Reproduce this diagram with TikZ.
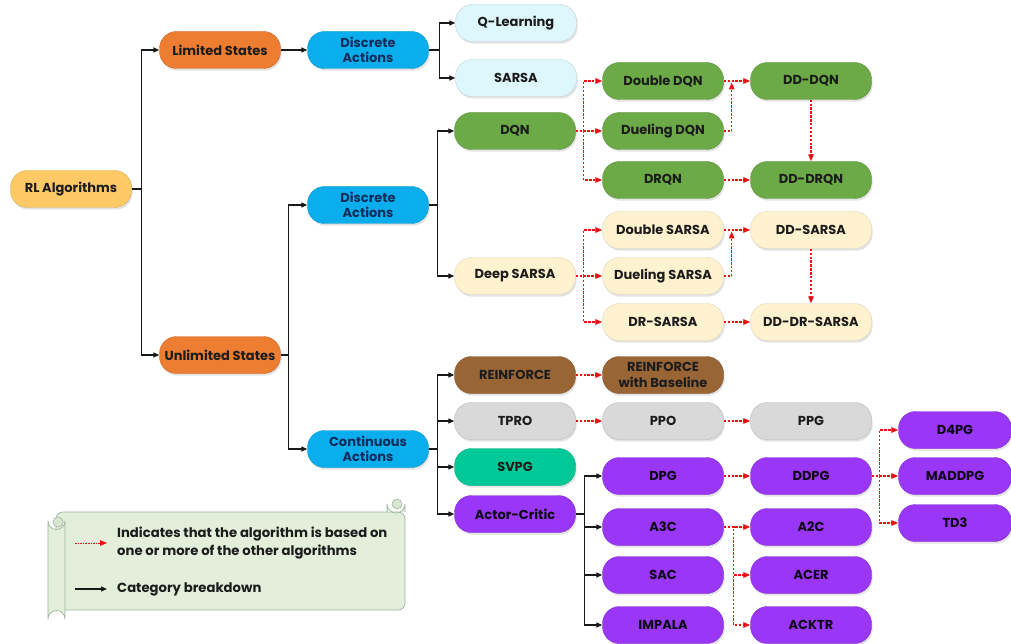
\documentclass[tikz,border=0pt]{standalone}
\usepackage{fontspec}
\setmainfont{Poppins}
\usetikzlibrary{arrows.meta,shadows,calc}
\definecolor{rlC}{HTML}{FFC966}
\definecolor{stC}{HTML}{ED7D31}
\definecolor{actC}{HTML}{0AAEEC}
\definecolor{qlC}{HTML}{DDF7FB}
\definecolor{dqnC}{HTML}{6CA947}
\definecolor{sarC}{HTML}{FFF2CF}
\definecolor{reC}{HTML}{9A6535}
\definecolor{grC}{HTML}{D9D9D9}
\definecolor{svC}{HTML}{00C896}
\definecolor{acC}{HTML}{9A36F5}
\definecolor{txt}{HTML}{1C1C1C}
\definecolor{navy}{HTML}{0F2D5C}
\definecolor{depC}{HTML}{E81010}
\definecolor{scrC}{HTML}{E3EFDB}
\definecolor{scrD}{HTML}{9FB5A2}
\begin{document}
\begin{tikzpicture}[x=1pt,y=-1pt,
  box/.style={rounded corners=17pt, minimum width=121pt, minimum height=37pt, inner sep=1pt,
    align=center, font=\bfseries\fontsize{13}{15.5}\selectfont, text=txt, line width=0.4pt,
    drop shadow={shadow xshift=1.2pt, shadow yshift=-2.2pt, opacity=0.22}},
  rlbox/.style={box, fill=rlC, draw=rlC!85!black},
  stbox/.style={box, fill=stC, draw=stC!85!black},
  actbox/.style={box, fill=actC, draw=actC!85!black, text=navy},
  qlbox/.style={box, fill=qlC, draw=qlC!70!gray},
  dqnbox/.style={box, fill=dqnC, draw=dqnC!85!black},
  sarbox/.style={box, fill=sarC, draw=sarC!75!gray},
  rebox/.style={box, fill=reC, draw=reC!85!black},
  grbox/.style={box, fill=grC, draw=grC!85!black},
  svbox/.style={box, fill=svC, draw=svC!85!black},
  acbox/.style={box, fill=acC, draw=acC!85!black, text=black!90!acC},
  tree/.style={draw=black!90, line width=1.3pt, -{Triangle[length=6pt,width=5pt]}},
  dep/.style={draw=depC, line width=1.3pt, dash pattern=on 2.4pt off 1.5pt, -{Triangle[length=7pt,width=5.5pt]}},
  scroll/.style={fill=scrC, draw=scrD, line width=0.7pt},
  curl/.style={fill=scrC!85!scrD, draw=scrD, line width=0.6pt},
  legtext/.style={anchor=west, align=left, text=txt, font=\bfseries\fontsize{13.2}{18}\selectfont, inner sep=0pt}
]
\useasboundingbox (0,0) rectangle (1011,644);
\fill[white] (0,0) rectangle (1011,644);

% ---------- nodes ----------
\node[rlbox] (rl) at (71,189) {RL Algorithms};
\node[stbox] (ls) at (220,50) {Limited States};
\node[actbox] (da1) at (368,50) {Discrete\\Actions};
\node[qlbox] (ql) at (516,23) {Q-Learning};
\node[qlbox] (sarsa) at (516,78) {SARSA};

\node[stbox] (us) at (220,355) {Unlimited States};
\node[actbox] (da2) at (368,205) {Discrete\\Actions};
\node[actbox] (ca) at (368,449) {Continuous\\Actions};

\node[dqnbox] (dqn) at (515,131) {DQN};
\node[dqnbox] (ddqn) at (663,81) {Double DQN};
\node[dqnbox] (duedqn) at (663,131) {Dueling DQN};
\node[dqnbox] (drqn) at (663,180) {DRQN};
\node[dqnbox] (dddqn) at (811,81) {DD-DQN};
\node[dqnbox] (dddrqn) at (811,180) {DD-DRQN};

\node[sarbox] (dsarsa) at (515,276) {Deep SARSA};
\node[sarbox] (dbsar) at (663,230) {Double SARSA};
\node[sarbox] (duesar) at (663,276) {Dueling SARSA};
\node[sarbox] (drsar) at (663,322) {DR-SARSA};
\node[sarbox] (ddsar) at (811,230) {DD-SARSA};
\node[sarbox] (dddrsar) at (811,322) {DD-DR-SARSA};

\node[rebox] (reinf) at (515,375) {REINFORCE};
\node[rebox] (rwb) at (663,375) {REINFORCE\\with Baseline};
\node[grbox] (tpro) at (515,421) {TPRO};
\node[grbox] (ppo) at (663,421) {PPO};
\node[grbox] (ppg) at (811,421) {PPG};
\node[svbox] (svpg) at (515,467) {SVPG};
\node[acbox] (ac) at (515,514) {Actor-Critic};

\node[acbox] (dpg) at (663,476) {DPG};
\node[acbox] (ddpg) at (811,476) {DDPG};
\node[acbox, minimum width=113pt] (d4pg) at (955,430) {D4PG};
\node[acbox, minimum width=113pt] (maddpg) at (955,476) {MADDPG};
\node[acbox, minimum width=113pt] (td3) at (955,523) {TD3};
\node[acbox] (a3c) at (663,527) {A3C};
\node[acbox] (a2c) at (811,527) {A2C};
\node[acbox] (sac) at (663,575) {SAC};
\node[acbox] (acer) at (811,575) {ACER};
\node[acbox] (impala) at (663,625) {IMPALA};
\node[acbox] (acktr) at (811,625) {ACKTR};

% ---------- category breakdown ----------
\draw[tree] (rl.east) -- ++(10,0) |- (ls.west);
\draw[tree] (rl.east) -- ++(10,0) |- (us.west);
\draw[tree] (ls.east) -- (da1.west);
\draw[tree] (da1.east) -- ++(11,0) |- (ql.west);
\draw[tree] (da1.east) -- ++(11,0) |- (sarsa.west);
\draw[tree] (us.east) -- ++(8,0) |- (da2.west);
\draw[tree] (us.east) -- ++(8,0) |- (ca.west);
\draw[tree] (da2.east) -- ++(9,0) |- (dqn.west);
\draw[tree] (da2.east) -- ++(9,0) |- (dsarsa.west);
\draw[tree] (ca.east) -- ++(9,0) |- (reinf.west);
\draw[tree] (ca.east) -- ++(9,0) |- (tpro.west);
\draw[tree] (ca.east) -- ++(9,0) |- (svpg.west);
\draw[tree] (ca.east) -- ++(9,0) |- (ac.west);
\draw[tree] (ac.east) -- ++(9,0) |- (dpg.west);
\draw[tree] (ac.east) -- ++(9,0) |- (a3c.west);
\draw[tree] (ac.east) -- ++(9,0) |- (sac.west);
\draw[tree] (ac.east) -- ++(9,0) |- (impala.west);

% ---------- based-on ----------
\draw[dep] (dqn.east) -- ++(8,0) |- (ddqn.west);
\draw[dep] (dqn.east) -- (duedqn.west);
\draw[dep] (dqn.east) -- ++(8,0) |- (drqn.west);
\draw[dep] (ddqn.east) -- (dddqn.west);
\draw[dep, shorten >=1.5pt] (duedqn.east) -- ++(8,0) coordinate (j1) -- (j1 |- ddqn.east);
\draw[dep] (dddqn.south) -- (dddrqn.north);
\draw[dep] (drqn.east) -- (dddrqn.west);

\draw[dep] (dsarsa.east) -- ++(8,0) |- (dbsar.west);
\draw[dep] (dsarsa.east) -- (duesar.west);
\draw[dep] (dsarsa.east) -- ++(8,0) |- (drsar.west);
\draw[dep] (dbsar.east) -- (ddsar.west);
\draw[dep, shorten >=1.5pt] (duesar.east) -- ++(8,0) coordinate (j2) -- (j2 |- dbsar.east);
\draw[dep] (ddsar.south) -- (dddrsar.north);
\draw[dep] (drsar.east) -- (dddrsar.west);

\draw[dep] (reinf.east) -- (rwb.west);
\draw[dep] (tpro.east) -- (ppo.west);
\draw[dep] (ppo.east) -- (ppg.west);
\draw[dep] (dpg.east) -- (ddpg.west);
\draw[dep] (ddpg.east) -- ++(8,0) |- (d4pg.west);
\draw[dep] (ddpg.east) -- (maddpg.west);
\draw[dep] (ddpg.east) -- ++(8,0) |- (td3.west);
\draw[dep] (a3c.east) -- ++(10,0) |- (a2c.west);
\draw[dep] (a3c.east) -- ++(10,0) |- (acer.west);
\draw[dep] (a3c.east) -- ++(10,0) |- (acktr.west);

% ---------- legend scroll ----------
\draw[scroll, rounded corners=7pt] (56,512) -- (405,512) -- (405,610) -- (56,610) -- cycle;
\draw[scroll] (387,512) -- (387,504) arc (180:0:9) -- (405,512);
\draw[curl] (397,504) circle (5);
\draw[scroll] (48,521) arc (180:0:8.5) -- (65,619) arc (0:-180:8.5) -- cycle;
\draw[curl] (58,522) circle (5);

\coordinate (l1a) at (75,543);
\coordinate (l1b) at (107,543);
\coordinate (l2a) at (75,589);
\coordinate (l2b) at (107,589);
\draw[dep, line width=1pt, dash pattern=on 1.6pt off 1pt] (l1a) -- (l1b);
\draw[tree, line width=1.2pt] (l2a) -- (l2b);
\node[legtext] (lt1) at (117,543) {Indicates that the algorithm is based on\\one or more of the other algorithms};
\node[legtext] (lt2) at (117,589) {Category breakdown};
\end{tikzpicture}
\end{document}
